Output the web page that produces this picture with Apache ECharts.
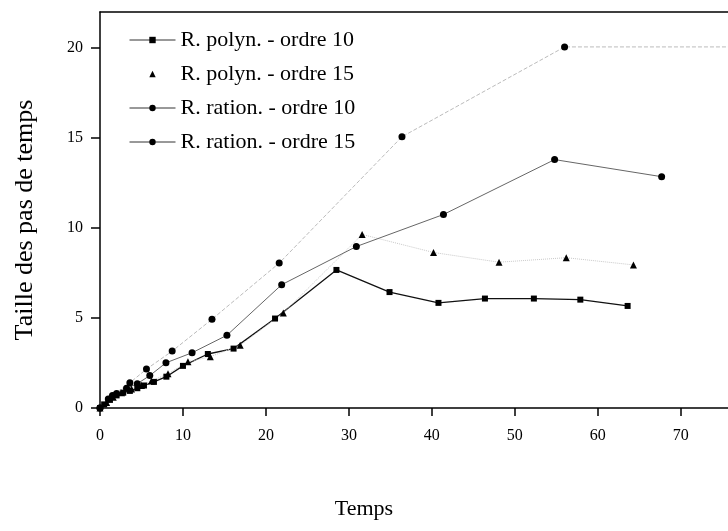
<!DOCTYPE html>
<html>
<head>
<meta charset="utf-8">
<script src="https://cdn.jsdelivr.net/npm/echarts@6/dist/echarts.min.js"></script>
<style>
html,body{margin:0;padding:0;background:#fff;}
#chart{width:728px;height:531px;}
</style>
</head>
<body>
<div id="chart"></div>
<script>
// Series names
const seriesNames = ["R. polyn. - ordre 10", "R. polyn. - ordre 15", "R. ration. - ordre 10", "R. ration. - ordre 15"];
// [temps, taille] pairs
const polyn10 = [[0,0],[0.5,0.2],[1.2,0.45],[2.0,0.7],[2.8,0.85],[3.6,0.95],[4.5,1.1],[5.3,1.25],[6.5,1.45],[8.0,1.74],[10.0,2.34],[13.0,3.0],[16.1,3.3],[21.1,4.97],[28.5,7.67],[34.9,6.44],[40.8,5.84],[46.4,6.08],[52.3,6.08],[57.9,6.02],[63.6,5.67]];
const polyn15 = [[0,0],[0.8,0.3],[1.6,0.6],[2.6,0.85],[3.8,1.05],[5.0,1.25],[6.2,1.5],[8.2,1.9],[10.6,2.57],[13.3,2.85],[16.9,3.49],[22.1,5.28],[31.6,9.64],[40.2,8.64],[48.1,8.1],[56.2,8.35],[64.3,7.95]];
const ration10 = [[0,0],[1.0,0.5],[2.0,0.8],[3.2,1.1],[4.5,1.35],[6.0,1.8],[7.95,2.51],[11.1,3.07],[15.3,4.04],[21.9,6.85],[30.9,8.97],[41.4,10.75],[54.8,13.8],[67.7,12.85]];
const ration15 = [[0,0],[1.5,0.7],[3.6,1.4],[5.6,2.16],[8.7,3.16],[13.5,4.93],[21.6,8.05],[36.4,15.07],[56.0,20.06],[80,20.06]];
// Axis ticks
const xTicks = [0,10,20,30,40,50,60,70];
const yTicks = [0,5,10,15,20];

const FONT = "'Liberation Serif', 'DejaVu Serif', serif";
const chart = echarts.init(document.getElementById('chart'), null, {renderer:'canvas'});
chart.setOption({
  animation: false,
  backgroundColor: '#fff',
  grid: {left: 100, top: 12, right: 0, bottom: 123, containLabel: false},
  legend: {
    orient: 'vertical', left: 124, top: 24, itemWidth: 46, itemHeight: 8, itemGap: 12,
    data: [
      {name: seriesNames[0]},
      {name: seriesNames[1], lineStyle: {opacity: 0}},
      {name: seriesNames[2]},
      {name: seriesNames[3]}
    ],
    lineStyle: {color: '#333', width: 1, type: 'solid'},
    textStyle: {fontFamily: FONT, fontSize: 22, color: '#000'}
  },
  xAxis: [{
    type: 'value', min: 0, max: 75.7, interval: 10,
    name: 'Temps', nameLocation: 'middle', nameGap: 90,
    nameTextStyle: {fontFamily: FONT, fontSize: 22, color: '#000', padding: [0, 100, 0, 0]},
    axisLine: {show: true, lineStyle: {color: '#000', width: 1.5}},
    axisTick: {show: true, length: 8, customValues: xTicks, lineStyle: {color: '#000', width: 1.5}},
    axisLabel: {margin: 20, fontFamily: FONT, fontSize: 16, color: '#000', customValues: xTicks},
    splitLine: {show: false}
  }, {
    type: 'value', position: 'top', min: 0, max: 75.7, interval: 10,
    axisLine: {show: true, onZero: false, lineStyle: {color: '#000', width: 1.5}},
    axisTick: {show: false}, axisLabel: {show: false}, splitLine: {show: false}
  }],
  yAxis: {
    type: 'value', min: 0, max: 22, interval: 5,
    name: 'Taille des pas de temps', nameLocation: 'middle', nameGap: 62,
    nameTextStyle: {fontFamily: FONT, fontSize: 26, color: '#000', padding: [0, 20, 0, 0]},
    axisLine: {show: true, lineStyle: {color: '#000', width: 1.5}},
    axisTick: {show: true, length: 9, customValues: yTicks, lineStyle: {color: '#000', width: 1.5}},
    axisLabel: {margin: 17, fontFamily: FONT, fontSize: 16, color: '#000', customValues: yTicks},
    splitLine: {show: false}
  },
  series: [
    {name: seriesNames[0], type: 'line', data: polyn10, symbol: 'rect', symbolSize: 6,
     itemStyle: {color: '#000'}, lineStyle: {color: '#111', width: 1.3}},
    {name: seriesNames[1], type: 'line', data: polyn15, symbol: 'triangle', symbolSize: 7,
     itemStyle: {color: '#000'}, lineStyle: {color: '#c8c8c8', width: 1, type: 'dotted'}},
    {name: seriesNames[2], type: 'line', data: ration10, symbol: 'circle', symbolSize: 7,
     itemStyle: {color: '#000'}, lineStyle: {color: '#666', width: 1}},
    {name: seriesNames[3], type: 'line', data: ration15, symbol: 'circle', symbolSize: 7,
     itemStyle: {color: '#000'}, lineStyle: {color: '#bbb', width: 1, type: 'dashed'}}
  ]
});
</script>
</body>
</html>
